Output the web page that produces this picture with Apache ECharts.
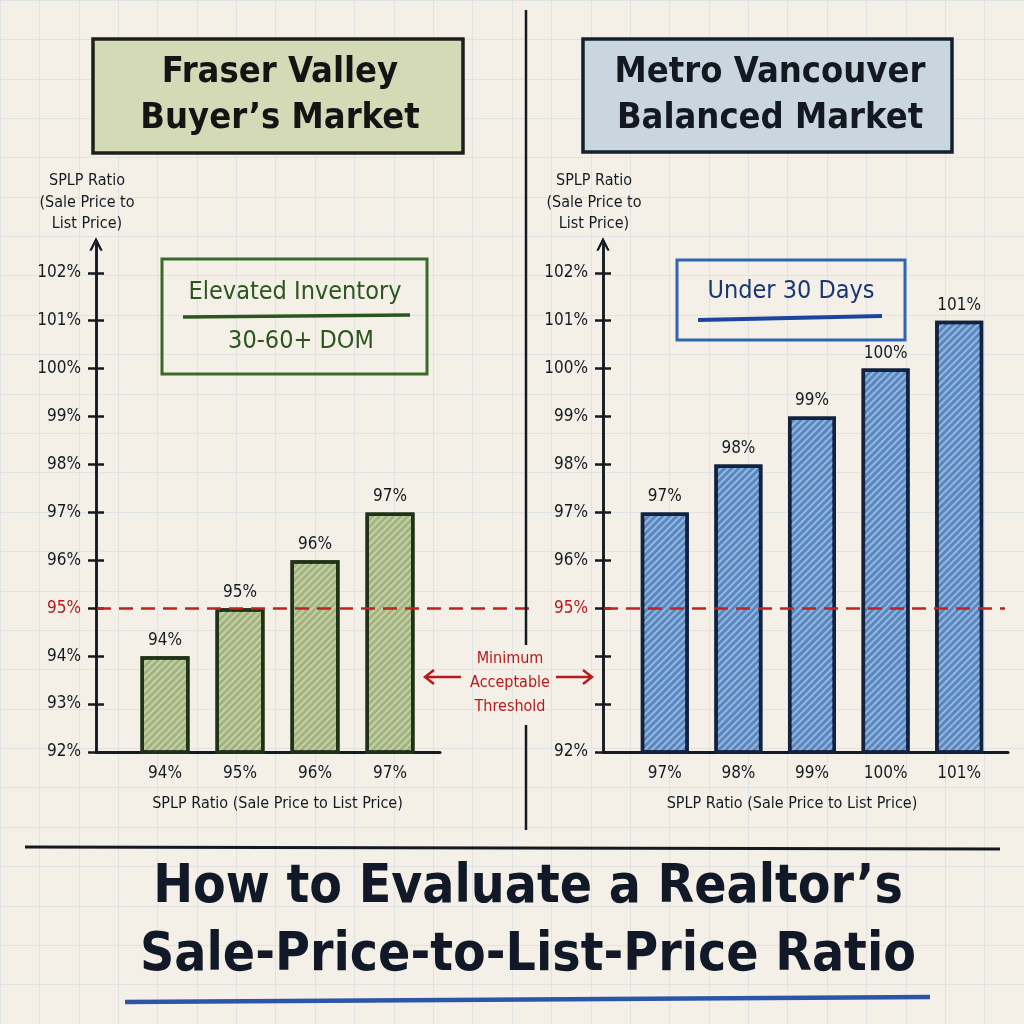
<!DOCTYPE html>
<html>
<head>
<meta charset="utf-8">
<script src="https://cdn.jsdelivr.net/npm/echarts@6/dist/echarts.min.js"></script>
<style>
html,body{margin:0;padding:0;background:#f4f0e7;}
#chart{width:1024px;height:1024px;}
</style>
</head>
<body>
<div id="chart"></div>
<script>
// ---- data ----
var leftCategories = ['94%', '95%', '96%', '97%'];
var leftValues = [94, 95, 96, 97];
var rightCategories = ['97%', '98%', '99%', '100%', '101%'];
var rightValues = [97, 98, 99, 100, 101];
var yTicks = [92, 93, 94, 95, 96, 97, 98, 99, 100, 101, 102];
var leftYLabels = [92, 93, 94, 95, 96, 97, 98, 99, 100, 101, 102];
var rightYLabels = [92, 95, 96, 97, 98, 99, 100, 101, 102];
var threshold = 95;
var leftHeader = 'Fraser Valley\nBuyer\u2019s Market';
var rightHeader = 'Metro Vancouver\nBalanced Market';
var leftNote1 = 'Elevated Inventory';
var leftNote2 = '30-60+ DOM';
var rightNote = 'Under 30 Days';
var yAxisTitle = 'SPLP Ratio\n(Sale Price to\nList Price)';
var xAxisTitle = 'SPLP Ratio (Sale Price to List Price)';
var thresholdNote = 'Minimum\nAcceptable\nThreshold';
var mainTitle = 'How to Evaluate a Realtor\u2019s\nSale-Price-to-List-Price Ratio';

var FONT = '"DejaVu Sans Condensed", "Liberation Sans Narrow", "Noto Sans", sans-serif';
var INK = '#151a22';
var RED = '#b8191c';
var Y_MIN = 92, Y_MAX = 102.6;
var TOP = 244, H = 508;

var chart = echarts.init(document.getElementById('chart'), null, {renderer: 'canvas'});

function hiddenAxis(extra) {
  var a = {show: false};
  for (var k in extra) a[k] = extra[k];
  return a;
}
function frameY(grid, labels, inside) {
  return {
    type: 'value', gridIndex: grid, min: Y_MIN, max: Y_MAX, position: 'left', offset: 0,
    axisLine: {show: true, lineStyle: {color: INK, width: 2.5},
      symbol: ['none', 'path://M0,12 L6,0 L12,12 L10,12 L6,4 L2,12 Z'], symbolSize: [13, 14]},
    axisTick: {show: true, inside: inside, length: 8, customValues: yTicks, lineStyle: {color: INK, width: 2.5}},
    axisLabel: inside ? {show: false} : {
      show: true, customValues: labels, margin: 15, fontSize: 17, fontFamily: FONT,
      formatter: function (v) { return v + '%'; },
      color: function (v) { return Number(v) === threshold ? RED : INK; }
    },
    splitLine: {show: false},
    name: inside ? '' : yAxisTitle, nameLocation: 'end', nameGap: 9,
    nameTextStyle: {fontSize: 16, lineHeight: 21.5, fontFamily: FONT, color: INK, align: 'center', padding: [0, 18, 0, 0]}
  };
}
function barAxis(grid, cats, titlePad) {
  return {
    type: 'category', gridIndex: grid, data: cats, boundaryGap: true,
    axisLine: {show: false}, axisTick: {show: false},
    axisLabel: {fontSize: 17, fontFamily: FONT, color: INK, margin: 13},
    name: xAxisTitle, nameLocation: 'middle', nameGap: 44,
    nameTextStyle: {fontSize: 16, fontFamily: FONT, color: INK, padding: titlePad}
  };
}
function hatch(col) {
  return {symbol: 'rect', symbolSize: 1, color: col, dashArrayX: [1, 0], dashArrayY: [1.5, 2.5], rotation: -Math.PI / 4};
}
function thresholdSeries(idx) {
  return {
    type: 'line', xAxisIndex: idx, yAxisIndex: idx, data: [], z: 5,
    markLine: {
      silent: true, symbol: ['none', 'none'], label: {show: false},
      lineStyle: {color: '#c0221f', type: [14, 8], width: 2.5},
      data: [{yAxis: threshold}]
    }
  };
}

var option = {
  backgroundColor: '#f4f0e7',
  animation: false,
  grid: [
    {left: 0, top: 0, width: 1024, height: 1024},          // 0 background paper
    {left: 96, top: TOP, width: 344, height: H},           // 1 left frame
    {left: 127.5, top: TOP, width: 300, height: H},        // 2 left bars
    {left: 603, top: TOP, width: 405, height: H},          // 3 right frame
    {left: 628, top: TOP, width: 368, height: H},          // 4 right bars
    {left: 97, top: TOP, width: 434, height: H},           // 5 threshold line (left)
    {left: 604, top: TOP, width: 401, height: H}           // 6 threshold line (right)
  ],
  xAxis: [
    {type: 'value', gridIndex: 0, min: 0, max: 26, interval: 1, axisLine: {show: false}, axisTick: {show: false}, axisLabel: {show: false},
      splitLine: {show: true, lineStyle: {color: '#e0e3e3', width: 1}}},
    {type: 'value', gridIndex: 1, min: 0, max: 1, axisLine: {show: true, lineStyle: {color: INK, width: 3}}, axisTick: {show: false}, axisLabel: {show: false}, splitLine: {show: false}},
    barAxis(2, leftCategories, [0, 0, 0, 0]),
    {type: 'value', gridIndex: 3, min: 0, max: 1, axisLine: {show: true, lineStyle: {color: INK, width: 3}}, axisTick: {show: false}, axisLabel: {show: false}, splitLine: {show: false}},
    barAxis(4, rightCategories, [0, 40, 0, 0]),
    hiddenAxis({type: 'value', gridIndex: 5, min: 0, max: 1}),
    hiddenAxis({type: 'value', gridIndex: 6, min: 0, max: 1})
  ],
  yAxis: [
    {type: 'value', gridIndex: 0, min: 0, max: 26, interval: 1, axisLine: {show: false}, axisTick: {show: false}, axisLabel: {show: false},
      splitLine: {show: true, lineStyle: {color: '#e0e3e3', width: 1}}},
    frameY(1, leftYLabels, false),
    hiddenAxis({type: 'value', gridIndex: 2, min: Y_MIN, max: Y_MAX}),
    frameY(3, rightYLabels, false),
    hiddenAxis({type: 'value', gridIndex: 4, min: Y_MIN, max: Y_MAX}),
    hiddenAxis({type: 'value', gridIndex: 5, min: Y_MIN, max: Y_MAX}),
    hiddenAxis({type: 'value', gridIndex: 6, min: Y_MIN, max: Y_MAX}),
    frameY(1, leftYLabels, true),
    frameY(3, rightYLabels, true)
  ],
  series: [
    {
      type: 'bar', xAxisIndex: 2, yAxisIndex: 2, data: leftValues, barWidth: 49, z: 3,
      itemStyle: {color: '#a2b37d', borderColor: '#1f3319', borderWidth: 3.5, decal: hatch('rgba(232,238,214,0.5)')},
      label: {show: true, position: 'top', distance: 7, fontSize: 17, fontFamily: FONT, color: INK, formatter: '{c}%'}
    },
    {
      type: 'bar', xAxisIndex: 4, yAxisIndex: 4, data: rightValues, barWidth: 48, z: 3,
      itemStyle: {color: '#5788c2', borderColor: '#12223f', borderWidth: 3.5, decal: hatch('rgba(214,228,245,0.5)')},
      label: {show: true, position: 'top', distance: 7, fontSize: 17, fontFamily: FONT, color: INK, formatter: '{c}%'}
    },
    thresholdSeries(5),
    thresholdSeries(6)
  ],
  graphic: [
    // centre divider and bottom rule
    {type: 'line', z: 10, shape: {x1: 526, y1: 10, x2: 526, y2: 645}, style: {stroke: INK, lineWidth: 2.5}},
    {type: 'line', z: 10, shape: {x1: 526, y1: 725, x2: 526, y2: 830}, style: {stroke: INK, lineWidth: 2.5}},
    {type: 'line', z: 10, shape: {x1: 25, y1: 847, x2: 1000, y2: 849}, style: {stroke: INK, lineWidth: 3}},
    // header boxes
    {type: 'rect', z: 10, shape: {x: 93, y: 39, width: 370, height: 114}, style: {fill: '#d4dab5', stroke: '#1c1f1a', lineWidth: 3.5}},
    {type: 'text', z: 11, style: {x: 280, y: 96, text: leftHeader, fill: '#141414', font: 'bold 36px ' + FONT, align: 'center', verticalAlign: 'middle', lineHeight: 46}},
    {type: 'rect', z: 10, shape: {x: 583, y: 39, width: 369, height: 113}, style: {fill: '#c9d5df', stroke: '#15202e', lineWidth: 3.5}},
    {type: 'text', z: 11, style: {x: 770, y: 96, text: rightHeader, fill: '#141821', font: 'bold 36px ' + FONT, align: 'center', verticalAlign: 'middle', lineHeight: 46}},
    // left annotation box
    {type: 'rect', z: 10, shape: {x: 162, y: 259, width: 265, height: 115}, style: {fill: 'rgba(0,0,0,0)', stroke: '#3a6a2a', lineWidth: 3}},
    {type: 'text', z: 11, style: {x: 295, y: 292, text: leftNote1, fill: '#2b561d', font: '25px ' + FONT, align: 'center', verticalAlign: 'middle'}},
    {type: 'line', z: 11, shape: {x1: 183, y1: 317, x2: 410, y2: 315}, style: {stroke: '#2b561d', lineWidth: 3.5}},
    {type: 'text', z: 11, style: {x: 301, y: 341, text: leftNote2, fill: '#2b561d', font: '25px ' + FONT, align: 'center', verticalAlign: 'middle'}},
    // right annotation box
    {type: 'rect', z: 10, shape: {x: 677, y: 260, width: 228, height: 80}, style: {fill: 'rgba(0,0,0,0)', stroke: '#2f66b0', lineWidth: 3}},
    {type: 'text', z: 11, style: {x: 791, y: 291, text: rightNote, fill: '#1a3674', font: '25px ' + FONT, align: 'center', verticalAlign: 'middle'}},
    {type: 'line', z: 11, shape: {x1: 698, y1: 320, x2: 882, y2: 316}, style: {stroke: '#1c45a0', lineWidth: 4}},
    // threshold note and arrows
    {type: 'text', z: 11, style: {x: 510, y: 683, text: thresholdNote, fill: RED, font: '16px ' + FONT, align: 'center', verticalAlign: 'middle', lineHeight: 24}},
    {type: 'polyline', z: 11, shape: {points: [[461, 677], [425, 677]]}, style: {stroke: RED, lineWidth: 2.5, fill: null}},
    {type: 'polyline', z: 11, shape: {points: [[434, 670], [425, 677], [434, 684]]}, style: {stroke: RED, lineWidth: 2.5, fill: null}},
    {type: 'polyline', z: 11, shape: {points: [[556, 677], [592, 677]]}, style: {stroke: RED, lineWidth: 2.5, fill: null}},
    {type: 'polyline', z: 11, shape: {points: [[583, 670], [592, 677], [583, 684]]}, style: {stroke: RED, lineWidth: 2.5, fill: null}},
    // main title
    {type: 'text', z: 11, style: {x: 528, y: 922, text: mainTitle, fill: '#111827', font: 'bold 53px ' + FONT, align: 'center', verticalAlign: 'middle', lineHeight: 68}},
    {type: 'line', z: 11, shape: {x1: 125, y1: 1002, x2: 930, y2: 997}, style: {stroke: '#2a55a8', lineWidth: 4.5}}
  ]
};
chart.setOption(option);
</script>
</body>
</html>
